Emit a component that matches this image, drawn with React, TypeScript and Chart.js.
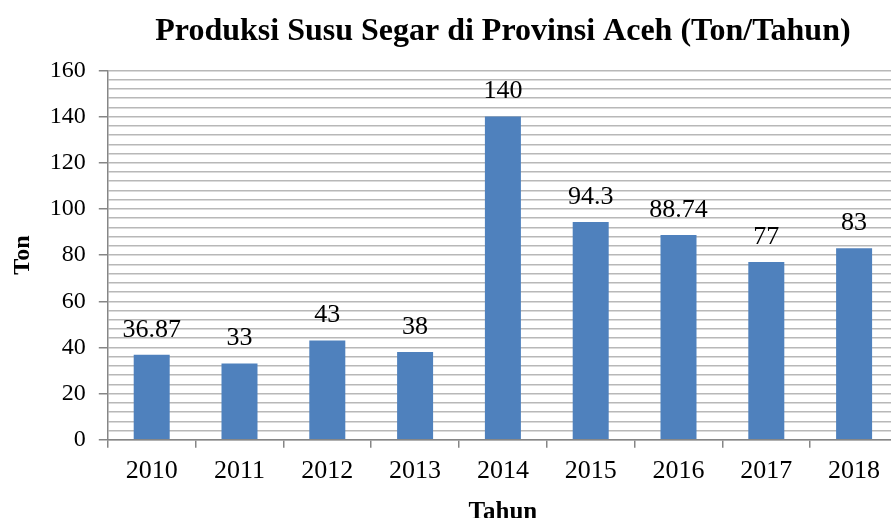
import React, { useEffect, useRef } from 'react';
import { Chart, registerables } from 'chart.js';

Chart.register(...registerables);

const years: string[] = ['2010', '2011', '2012', '2013', '2014', '2015', '2016', '2017', '2018'];
const production: number[] = [36.87, 33, 43, 38, 140, 94.3, 88.74, 77, 83];
const yMin = 0;
const yMax = 160;
const minorStep = 4;
const majorStep = 20;

const titleText = 'Produksi Susu Segar di Provinsi Aceh (Ton/Tahun)';
const xTitle = 'Tahun';
const yTitle = 'Ton';

const FONT = "'Liberation Serif', 'Times New Roman', serif";

const valueLabels = {
  id: 'valueLabels',
  afterDatasetsDraw(chart: any) {
    const { ctx } = chart;
    const meta = chart.getDatasetMeta(0);
    ctx.save();
    ctx.font = `26px ${FONT}`;
    ctx.fillStyle = '#000';
    ctx.textAlign = 'center';
    ctx.textBaseline = 'bottom';
    meta.data.forEach((bar: any, i: number) => {
      ctx.fillText(String(production[i]), bar.x, bar.y - 12);
    });
    ctx.restore();
  },
};

export default function App() {
  const ref = useRef<HTMLCanvasElement>(null);
  useEffect(() => {
    if (!ref.current) return;
    const chart = new Chart(ref.current, {
      type: 'bar',
      data: {
        labels: years,
        datasets: [
          {
            data: production,
            backgroundColor: '#4F81BD',
            borderWidth: 0,
            barPercentage: 0.41,
            categoryPercentage: 1,
          },
        ],
      },
      options: {
        responsive: false,
        animation: false,
        devicePixelRatio: 1,
        layout: { padding: { left: 8, right: 2, top: 13, bottom: 0 } },
        plugins: {
          legend: { display: false },
          tooltip: { enabled: false },
          title: {
            display: true,
            text: titleText,
            fullSize: false,
            color: '#000',
            font: { family: FONT, size: 32, weight: 'bold' },
            padding: { top: 0, bottom: 19 },
          },
        },
        scales: {
          x: {
            grid: {
              display: true,
              offset: true,
              drawOnChartArea: false,
              drawTicks: true,
              tickLength: 8,
              tickColor: '#868686',
              lineWidth: 1.5,
            },
            border: { display: true, color: '#868686', width: 1.5 },
            ticks: {
              color: '#000',
              font: { family: FONT, size: 26 },
              padding: 8,
            },
            title: {
              display: true,
              text: xTitle,
              color: '#000',
              font: { family: FONT, size: 25, weight: 'bold' },
              padding: { top: 3, bottom: 4 },
            },
          },
          y: {
            min: yMin,
            max: yMax,
            grid: {
              color: '#b8b8b8',
              lineWidth: 1.5,
              tickLength: 9,
              tickColor: (c: any) => (c.tick && c.tick.value % majorStep === 0 ? '#868686' : 'rgba(0,0,0,0)'),
            },
            border: { display: true, color: '#868686', width: 1.5 },
            ticks: {
              stepSize: minorStep,
              autoSkip: false,
              color: '#000',
              font: { family: FONT, size: 24 },
              padding: 13,
              callback: (v: any) => (Number(v) % majorStep === 0 ? String(v) : ''),
            },
            title: {
              display: true,
              text: yTitle,
              color: '#000',
              font: { family: FONT, size: 24, weight: 'bold' },
              padding: { top: 0, bottom: 0 },
            },
          },
        },
      },
      plugins: [valueLabels],
    });
    return () => chart.destroy();
  }, []);
  return (
    <div style={{ position: 'fixed', left: 0, top: 0, width: 891, height: 518, overflow: 'hidden', background: '#fff' }}>
      <canvas ref={ref} width={900} height={532} style={{ display: 'block' }} />
    </div>
  );
}
